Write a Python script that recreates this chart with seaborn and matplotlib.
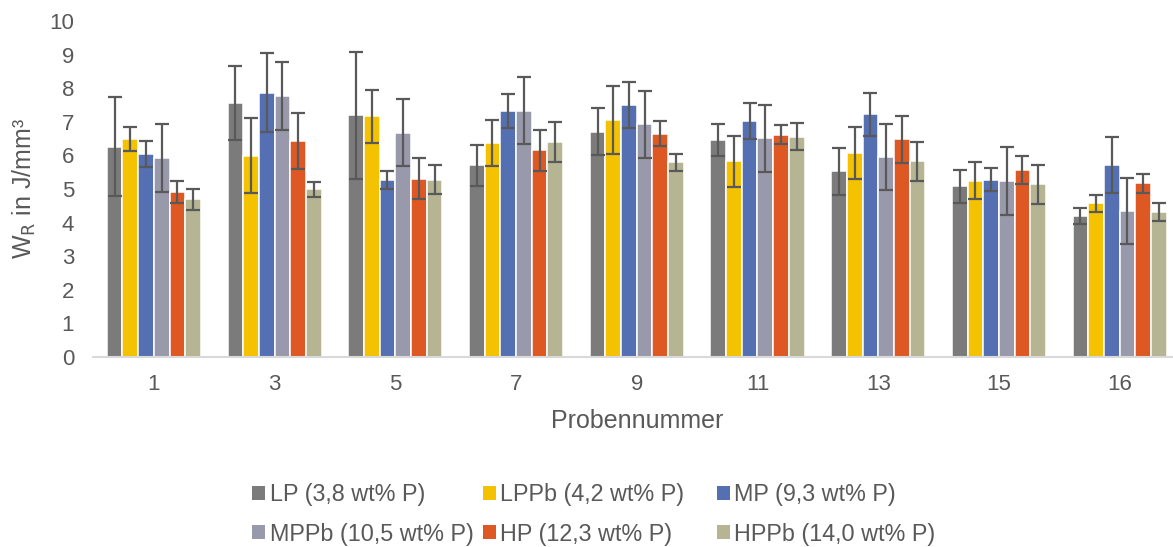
import numpy as np
import pandas as pd
import seaborn as sns
import matplotlib
matplotlib.use("Agg")
import matplotlib.pyplot as plt
from matplotlib.patches import Patch

# Sample numbers on the x axis
samples = ["1", "3", "5", "7", "9", "11", "13", "15", "16"]

# Material series (legend labels)
series = [
    "LP (3,8 wt% P)",
    "LPPb (4,2 wt% P)",
    "MP (9,3 wt% P)",
    "MPPb (10,5 wt% P)",
    "HP (12,3 wt% P)",
    "HPPb (14,0 wt% P)",
]

# Mean W_R values in J/mm³ per series
lp = [6.26, 7.55, 7.19, 5.71, 6.71, 6.45, 5.53, 5.08, 4.19]
lppb = [6.49, 5.99, 7.16, 6.37, 7.05, 5.82, 6.07, 5.25, 4.57]
mp = [6.04, 7.87, 5.28, 7.33, 7.50, 7.02, 7.22, 5.28, 5.72]
mppb = [5.93, 7.78, 6.68, 7.33, 6.93, 6.51, 5.95, 5.25, 4.35]
hp = [4.90, 6.43, 5.31, 6.16, 6.65, 6.62, 6.48, 5.57, 5.17]
hppb = [4.69, 4.99, 5.28, 6.40, 5.79, 6.56, 5.83, 5.14, 4.32]

# Standard deviations per series
lp_err = [1.48, 1.10, 1.90, 0.61, 0.69, 0.47, 0.70, 0.50, 0.24]
lppb_err = [0.36, 1.12, 0.80, 0.69, 1.01, 0.77, 0.78, 0.55, 0.26]
mp_err = [0.40, 1.18, 0.27, 0.50, 0.69, 0.53, 0.65, 0.35, 0.84]
mppb_err = [1.01, 1.01, 1.00, 1.00, 1.00, 1.00, 0.98, 1.01, 0.99]
hp_err = [0.33, 0.82, 0.62, 0.61, 0.36, 0.28, 0.70, 0.42, 0.29]
hppb_err = [0.32, 0.22, 0.42, 0.60, 0.24, 0.39, 0.58, 0.58, 0.27]

values = [lp, lppb, mp, mppb, hp, hppb]
errors = [lp_err, lppb_err, mp_err, mppb_err, hp_err, hppb_err]
colors = ["#7b7b7b", "#f4c200", "#5470b2", "#9899ab", "#dd5823", "#b5b594"]

rows = []
for name, vals in zip(series, values):
    for s, v in zip(samples, vals):
        rows.append({"Probe": s, "Serie": name, "WR": v})
df = pd.DataFrame(rows)

sns.set_style("white")
plt.rcParams["font.family"] = ["Liberation Sans", "DejaVu Sans"]
text_color = "#595959"

fig = plt.figure(figsize=(11.73, 5.47), dpi=100)
W, H = 1173, 547
ax = fig.add_axes([93.5 / W, 1 - 357 / H, (1180 - 93.5) / W, (357 - 21) / H])

sns.barplot(
    data=df, x="Probe", y="WR", hue="Serie",
    order=samples, hue_order=series, palette=colors, saturation=1,
    width=0.78, errorbar=None, edgecolor="white", linewidth=1.1,
    legend=False, ax=ax,
)

# Error bars placed on the drawn bars
for container, err in zip(ax.containers, errors):
    xs = [b.get_x() + b.get_width() / 2 for b in container]
    hs = [b.get_height() for b in container]
    ax.errorbar(xs, hs, yerr=err, fmt="none", ecolor="#595959",
                elinewidth=1.6, capsize=4.7, capthick=1.6, zorder=5)

ax.set_ylim(0, 10)
ax.set_yticks(range(0, 11))
ax.set_xlim(-0.5, len(samples) - 0.5)
for side in ["top", "right", "left"]:
    ax.spines[side].set_visible(False)
ax.spines["bottom"].set_color("#d9d9d9")
ax.spines["bottom"].set_linewidth(1.5)
ax.tick_params(axis="both", length=0, labelsize=16, labelcolor=text_color)
ax.tick_params(axis="y", pad=14)
ax.tick_params(axis="x", pad=12)
ax.grid(False)

ax.set_xlabel("Probennummer", fontsize=18, color=text_color, labelpad=10)
ax.set_ylabel(r"W$_\mathrm{R}$ in J/mm³", fontsize=18, color=text_color, labelpad=8)

# Legend: three columns, two rows
handles = [Patch(facecolor=c, edgecolor="none") for c in colors]
col_x = [252, 483, 717]
for i, x in enumerate(col_x):
    idx = [i, i + 3]
    leg = fig.legend(
        [handles[j] for j in idx], [series[j] for j in idx],
        loc="center left", bbox_to_anchor=(x / W, 1 - 514.5 / H),
        frameon=False, fontsize=16.8, labelcolor=text_color,
        handlelength=0.55, handleheight=0.55, handletextpad=0.2,
        labelspacing=0.7, borderpad=0, borderaxespad=0,
    )

fig.savefig("out.png", dpi=100)
